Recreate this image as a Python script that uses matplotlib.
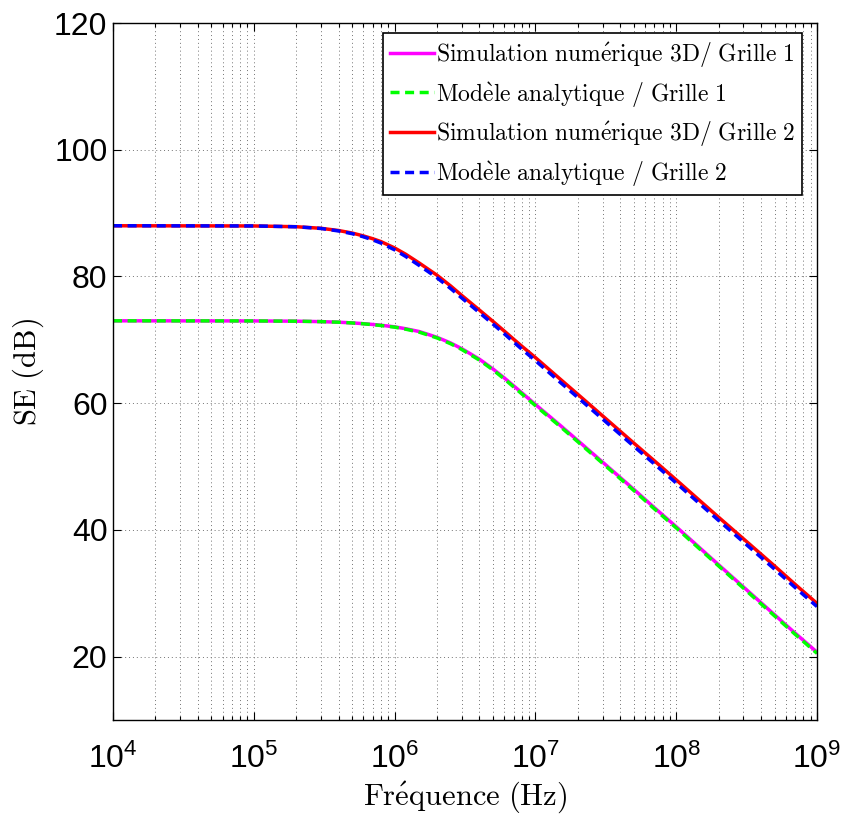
import numpy as np
import matplotlib
matplotlib.use('Agg')
import matplotlib.pyplot as plt
from matplotlib.ticker import LogLocator

# Sans font for tick labels (MATLAB Helvetica look), CM for labels/legend
plt.rcParams['font.family'] = ['Liberation Sans', 'DejaVu Sans']
plt.rcParams['mathtext.fontset'] = 'custom'
plt.rcParams['mathtext.rm'] = 'Liberation Sans'
plt.rcParams['mathtext.it'] = 'Liberation Sans:italic'
plt.rcParams['mathtext.bf'] = 'Liberation Sans:bold'

# Data
freq = [1e4, 1e5, 2e5, 3e5, 4e5, 5e5, 6e5, 7e5, 8e5, 1e6, 1.2e6, 1.5e6, 2e6, 2.5e6,
        3e6, 4e6, 5e6, 6e6, 7e6, 8e6, 1e7, 1.5e7, 2e7, 3e7, 5e7, 7e7, 1e8, 2e8,
        3e8, 5e8, 7e8, 1e9]
sim_g1 = [73.0, 72.98, 72.94, 72.87, 72.78, 72.67, 72.55, 72.42, 72.3, 72.05, 71.75,
          71.3, 70.4, 69.5, 68.6, 66.95, 65.4, 64.0, 62.75, 61.65, 59.8, 56.5, 54.1,
          50.7, 46.4, 43.5, 40.5, 34.5, 31.0, 26.6, 23.7, 20.7]
ana_g1 = [73.0, 72.98, 72.94, 72.87, 72.78, 72.66, 72.53, 72.39, 72.26, 72.0, 71.68,
          71.2, 70.3, 69.38, 68.47, 66.8, 65.25, 63.84, 62.58, 61.48, 59.62, 56.32,
          53.92, 50.52, 46.22, 43.32, 40.32, 34.32, 30.82, 26.42, 23.52, 20.52]
sim_g2 = [88.0, 87.97, 87.85, 87.6, 87.25, 86.85, 86.4, 85.95, 85.5, 84.5, 83.5,
          82.1, 80.2, 78.5, 77.0, 74.7, 72.9, 71.4, 70.1, 69.0, 67.2, 63.8, 61.4,
          58.0, 53.7, 50.9, 47.9, 42.0, 38.6, 34.3, 31.4, 28.4]
ana_g2 = [88.0, 87.97, 87.84, 87.57, 87.18, 86.75, 86.26, 85.77, 85.27, 84.2, 83.15,
          81.72, 79.8, 78.1, 76.6, 74.3, 72.48, 70.97, 69.65, 68.53, 66.72, 63.3,
          60.9, 57.5, 53.2, 50.4, 47.4, 41.5, 38.1, 33.8, 30.9, 27.9]

labels = [r'$\mathrm{Simulation\ num\acute{e}rique\ 3D/\ Grille\ 1}$',
          r'$\mathrm{Mod\grave{e}le\ analytique\ /\ Grille\ 1}$',
          r'$\mathrm{Simulation\ num\acute{e}rique\ 3D/\ Grille\ 2}$',
          r'$\mathrm{Mod\grave{e}le\ analytique\ /\ Grille\ 2}$']
yticks = [20, 40, 60, 80, 100, 120]

fig = plt.figure(figsize=(8.45, 8.18), dpi=100)
ax = fig.add_axes([113/845, 1-720/818, (817-113)/845, (720-23)/818])

dash = (2.6, 1.6)
ax.plot(freq, sim_g1, color='#ff00ff', lw=2.5, label=labels[0])
ax.plot(freq, ana_g1, color='#00ff00', lw=2.5, dashes=dash, label=labels[1])
ax.plot(freq, sim_g2, color='#ff0000', lw=2.5, label=labels[2])
ax.plot(freq, ana_g2, color='#0000ff', lw=2.5, dashes=dash, label=labels[3])

ax.set_xscale('log')
ax.set_xlim(1e4, 1e9)
ax.set_ylim(10, 120)
ax.set_yticks(yticks)
ax.xaxis.set_major_locator(LogLocator(base=10, numticks=10))
ax.xaxis.set_minor_locator(LogLocator(base=10, subs=np.arange(2, 10), numticks=20))

# MATLAB style grid and ticks
grid_style = dict(color='0.45', linestyle=(0, (1, 3)), linewidth=0.7)
ax.grid(True, which='major', axis='both', **grid_style)
ax.grid(True, which='minor', axis='x', **grid_style)
ax.tick_params(which='both', direction='in', top=True, right=True,
               labelsize=23, width=0.8)
ax.tick_params(which='major', length=6)
ax.tick_params(which='minor', length=3)
ax.tick_params(axis='x', which='major', pad=17)
ax.tick_params(axis='y', which='major', pad=4)
for s in ax.spines.values():
    s.set_linewidth(1.0)

xl = ax.set_xlabel(r'$\mathrm{Fr\acute{e}quence\ (Hz)}$', fontsize=22, labelpad=3)
yl = ax.set_ylabel(r'$\mathrm{SE\ (dB)}$', fontsize=22, labelpad=6)
xl.set_math_fontfamily('cm')
yl.set_math_fontfamily('cm')

leg = ax.legend(loc='upper right', bbox_to_anchor=(802/845, 1-33/818),
                bbox_transform=fig.transFigure, borderaxespad=0,
                fontsize=17, fancybox=False, framealpha=1, edgecolor='black',
                handlelength=1.85, handletextpad=0.08, labelspacing=0.45,
                borderpad=0.3)
leg.get_frame().set_linewidth(1.2)
for t in leg.get_texts():
    t.set_math_fontfamily('cm')

fig.savefig('out.png', dpi=100)
